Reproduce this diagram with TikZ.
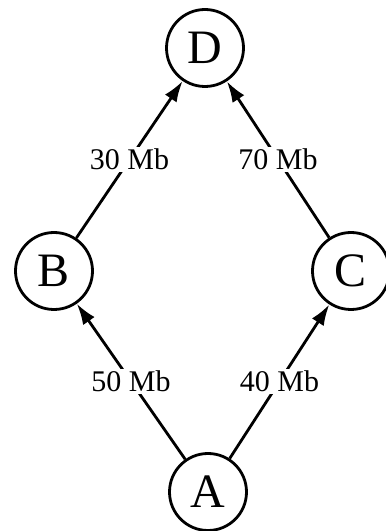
\documentclass[tikz,border=0pt]{standalone}
\usepackage{fontspec}
\setmainfont{Liberation Serif}
\usetikzlibrary{arrows.meta}
\begin{document}
\begin{tikzpicture}[x=1pt,y=1pt,
  vertex/.style={circle,draw,line width=2.8pt,minimum size=77pt,inner sep=0pt,font=\fontsize{48}{52}\selectfont},
  link/.style={line width=2.8pt,-{Latex[length=21pt,width=14pt]}},
  weightlabel/.style={fill=white,inner sep=2pt,font=\fontsize{30}{34}\selectfont}]
\useasboundingbox (0,0) rectangle (386,531);
\node[vertex] (D) at (205,483) {D};
\node[vertex] (B) at (54,260) {B};
\node[vertex] (C) at (351,260) {C};
\node[vertex] (A) at (208,39) {A};
\draw[link] (B) -- node[weightlabel] {30 Mb} (D);
\draw[link] (C) -- node[weightlabel] {70 Mb} (D);
\draw[link] (A) -- node[weightlabel] {50 Mb} (B);
\draw[link] (A) -- node[weightlabel] {40 Mb} (C);
\end{tikzpicture}
\end{document}
